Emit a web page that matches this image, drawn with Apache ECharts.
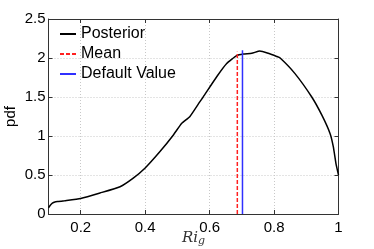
<!DOCTYPE html>
<html>
<head>
<meta charset="utf-8">
<script src="https://cdn.jsdelivr.net/npm/echarts@6/dist/echarts.min.js"></script>
<style>html,body{margin:0;padding:0;background:#fff;}#c{width:374px;height:249px;}</style>
</head>
<body>
<div id="c"></div>
<script>
// Data
const riG = [0.1, 0.105, 0.112, 0.12, 0.13, 0.15, 0.2, 0.26, 0.322, 0.363, 0.4, 0.446, 0.487, 0.513, 0.539, 0.57, 0.58, 0.622, 0.653, 0.684, 0.705, 0.731, 0.756, 0.782, 0.808, 0.819, 0.865, 0.917, 0.948, 0.974, 0.984, 0.992, 1.0];
const pdf = [0.08, 0.11, 0.14, 0.155, 0.16, 0.17, 0.20, 0.27, 0.35, 0.46, 0.59, 0.80, 1.01, 1.16, 1.25, 1.44, 1.50, 1.76, 1.93, 2.03, 2.05, 2.06, 2.09, 2.06, 2.02, 2.0, 1.80, 1.50, 1.27, 1.03, 0.86, 0.65, 0.50];
const meanX = [0.686, 0.686];
const meanY = [0, 2.08];
const defaultX = [0.702, 0.702];
const defaultY = [0, 2.10];
const xTicks = [0.2, 0.4, 0.6, 0.8, 1.0];
const yTicks = [0, 0.5, 1, 1.5, 2, 2.5];
const seriesNames = ['Posterior', 'Mean', 'Default Value'];

const zip = (a, b) => a.map((v, i) => [v, b[i]]);
const axisColor = '#333';
const gridLine = {show: true, lineStyle: {color: '#c8c8c8', type: [1, 2], width: 1}};
const tickFont = {fontFamily: 'Liberation Sans', fontSize: 15, color: '#000'};

const chart = echarts.init(document.getElementById('c'), null, {renderer: 'canvas'});
chart.setOption({
  animation: false,
  grid: {left: 48.5, right: 35.5, top: 19, bottom: 35, containLabel: false, outerBoundsMode: 'none'},
  legend: {
    data: seriesNames,
    orient: 'vertical',
    left: 54, top: 21,
    itemWidth: 16, itemHeight: 14, itemGap: 4,
    itemStyle: {opacity: 0, borderWidth: 0},
    textStyle: {fontFamily: 'Liberation Sans', fontSize: 16, color: '#000'}
  },
  xAxis: [{
    type: 'value', min: 0.1, max: 1, position: 'bottom',
    name: '{i|Ri}{s|g}', nameLocation: 'middle', nameGap: 16, nameMoveOverlap: false,
    nameTextStyle: {rich: {
      i: {fontFamily: 'DejaVu Serif', fontStyle: 'italic', fontSize: 15, color: '#333'},
      s: {fontFamily: 'DejaVu Serif', fontStyle: 'italic', fontSize: 11, color: '#333', padding: [6, 0, 0, 0]}
    }},
    axisLine: {show: true, onZero: false, lineStyle: {color: axisColor, width: 1}},
    axisTick: {show: true, inside: true, length: 4, customValues: xTicks, lineStyle: {color: axisColor}},
    axisLabel: Object.assign({customValues: xTicks, margin: 6, formatter: v => String(+v.toFixed(1))}, tickFont),
    splitLine: gridLine
  }, {
    type: 'value', min: 0.1, max: 1, position: 'top',
    axisLine: {show: true, onZero: false, lineStyle: {color: axisColor, width: 1}},
    axisTick: {show: true, inside: true, length: 4, customValues: xTicks, lineStyle: {color: axisColor}},
    axisLabel: {show: false},
    splitLine: {show: false}
  }],
  yAxis: [{
    type: 'value', min: 0, max: 2.5, interval: 0.5, position: 'left',
    name: 'pdf', nameLocation: 'middle', nameGap: 30, nameRotate: 90, nameMoveOverlap: false,
    nameTextStyle: {fontFamily: 'Liberation Sans', fontSize: 15, color: '#000'},
    axisLine: {show: true, onZero: false, lineStyle: {color: axisColor, width: 1}},
    axisTick: {show: true, inside: true, length: 4, lineStyle: {color: axisColor}},
    axisLabel: Object.assign({margin: 3, formatter: v => String(v)}, tickFont),
    splitLine: gridLine
  }, {
    type: 'value', min: 0, max: 2.5, interval: 0.5, position: 'right',
    axisLine: {show: true, onZero: false, lineStyle: {color: axisColor, width: 1}},
    axisTick: {show: true, inside: true, length: 4, lineStyle: {color: axisColor}},
    axisLabel: {show: false},
    splitLine: {show: false}
  }],
  series: [{
    name: seriesNames[0], type: 'line', symbol: 'none', smooth: 0.15,
    data: zip(riG, pdf),
    lineStyle: {color: '#000', width: 1.5}, itemStyle: {color: '#000'}
  }, {
    name: seriesNames[1], type: 'line', symbol: 'none',
    data: zip(meanX, meanY),
    lineStyle: {color: '#ff2020', width: 1.5, type: [4, 2]}, itemStyle: {color: '#ff2020'}
  }, {
    name: seriesNames[2], type: 'line', symbol: 'none',
    data: zip(defaultX, defaultY),
    lineStyle: {color: '#3030ff', width: 1.5}, itemStyle: {color: '#3030ff'}
  }]
});
</script>
</body>
</html>
